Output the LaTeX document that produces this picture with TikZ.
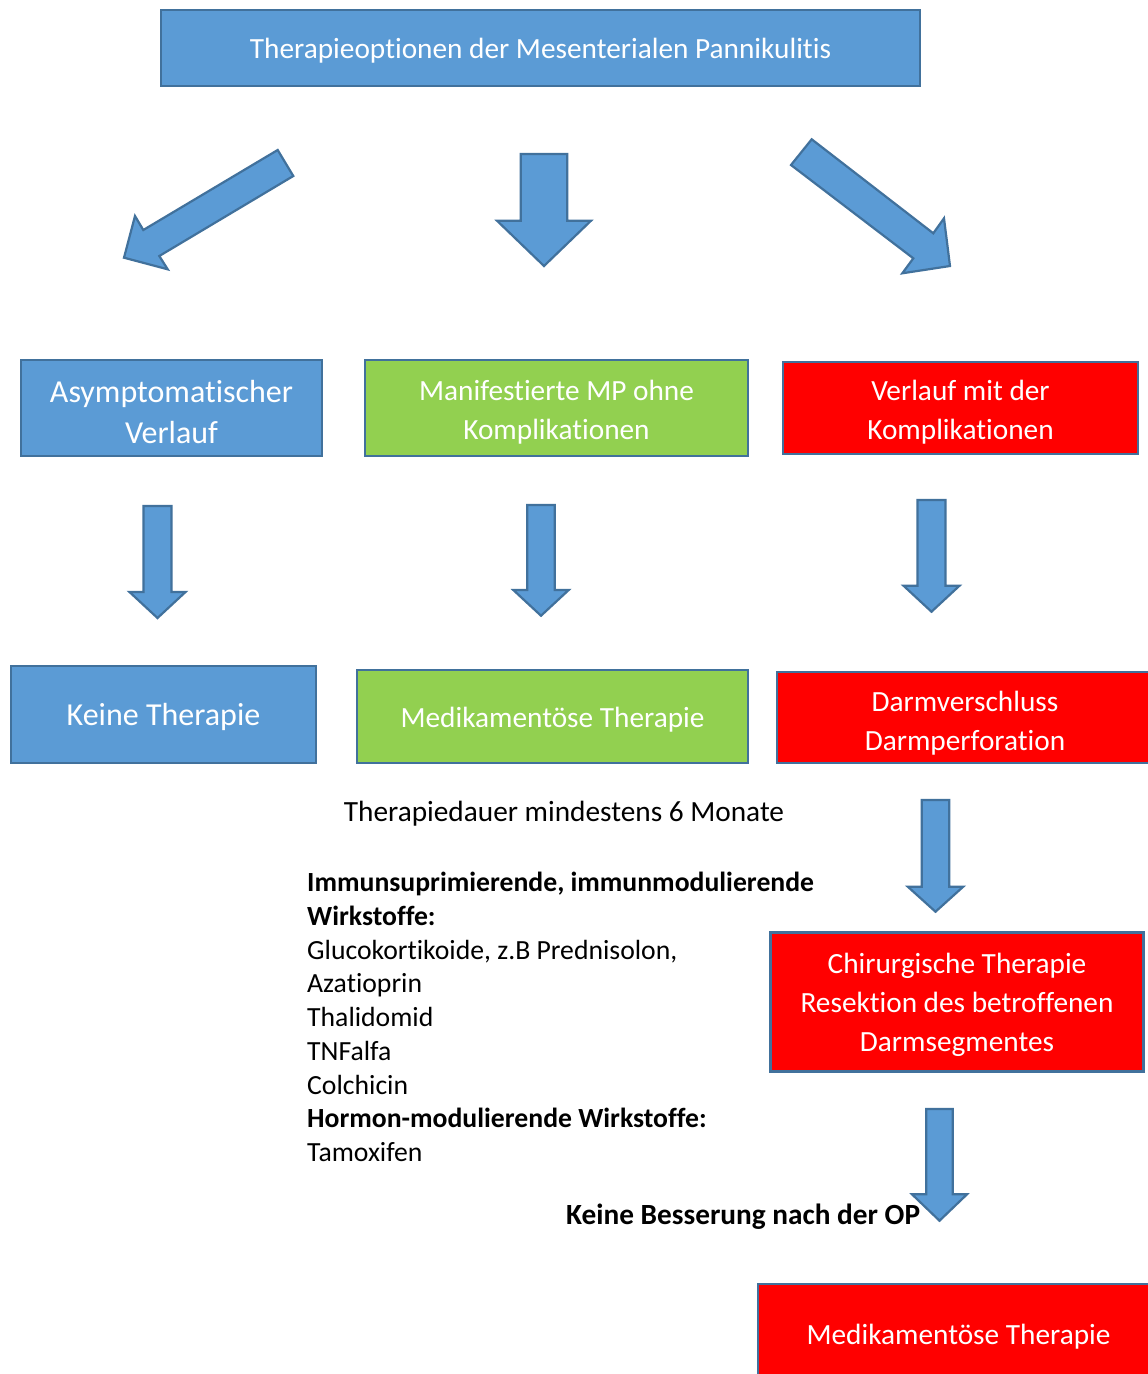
\documentclass[tikz,border=0pt]{standalone}
\usepackage{fontspec}
\setmainfont{Carlito}[Ligatures={NoCommon,NoContextual}]
\definecolor{mpblue}{HTML}{5B9BD5}
\definecolor{mpedge}{HTML}{41719C}
\definecolor{mpgreen}{HTML}{92D050}
\definecolor{mpred}{HTML}{FF0000}
\tikzset{
  box/.style={draw=mpedge, line width=2.2pt, inner sep=0pt},
  bluebox/.style={box, fill=mpblue},
  greenbox/.style={box, fill=mpgreen},
  redbox/.style={box, fill=mpred},
  boxtext/.style={text=white, align=center, inner sep=0pt, font=\fontsize{29.3}{39}\selectfont},
  bigtext/.style={text=white, align=center, inner sep=0pt, font=\fontsize{32}{40.5}\selectfont},
  blockarrow/.style={draw=mpedge, line width=2.2pt, fill=mpblue, line join=miter},
  plain/.style={text=black, inner sep=0pt, font=\fontsize{29.3}{34}\selectfont},
  plainbold/.style={text=black, inner sep=0pt, font=\fontsize{29.3}{34}\selectfont\bfseries},
  listtext/.style={text=black, inner sep=0pt, anchor=base west, font=\fontsize{27.7}{34}\selectfont},
  listbold/.style={listtext, font=\fontsize{27.7}{34}\selectfont\bfseries},
}
% cx, top, join, tip, shaft half width, head half width
\newcommand\blockdownarrow[6]{%
  \draw[blockarrow] ({#1-#5},#2) -- ({#1+#5},#2) -- ({#1+#5},#3) -- ({#1+#6},#3)
    -- (#1,#4) -- ({#1-#6},#3) -- ({#1-#5},#3) -- cycle;}
\begin{document}
\begin{tikzpicture}[x=1pt,y=-1pt]
\useasboundingbox (0,0) rectangle (1148,1374);
\clip (0,0) rectangle (1148,1374);
\fill[white] (0,0) rectangle (1148,1374);

% boxes
\node[bluebox, minimum width=759, minimum height=76] (title) at (540.5,48) {};
\node[boxtext] (titlet) at ([yshift=-3pt]title.center)
  {Therapieoptionen der Mesenterialen Pannikulitis};
\node[bluebox, minimum width=301, minimum height=96] (asym) at (171.5,408) {};
\node[bigtext] (asymt) at ([yshift=-4pt]asym.center) {Asymptomatischer\\Verlauf};
\node[greenbox, minimum width=383, minimum height=96] (manif) at (556.5,408) {};
\node[boxtext] (manift) at ([yshift=-4pt]manif.center) {Manifestierte MP ohne\\Komplikationen};
\node[redbox, minimum width=355, minimum height=92] (kompl) at (960.5,408) {};
\node[boxtext] (komplt) at ([yshift=-4pt]kompl.center) {Verlauf mit der\\Komplikationen};
\node[bluebox, minimum width=305, minimum height=97] (keine) at (163.5,714.5) {};
\node[bigtext] (keinet) at ([yshift=-2pt]keine.center) {Keine Therapie};
\node[greenbox, minimum width=391, minimum height=93] (medik) at (552.5,716.5) {};
\node[boxtext] (medikt) at ([yshift=-3pt]medik.center) {Medikamentöse Therapie};
\node[redbox, minimum width=376, minimum height=91] (darm) at (965,717.5) {};
\node[boxtext] (darmt) at ([yshift=-6pt]darm.center) {Darmverschluss\\Darmperforation};
\node[redbox, minimum width=373, minimum height=139] (chir) at (957,1002) {};
\node[boxtext] (chirt) at ([yshift=-2.5pt]chir.center)
  {Chirurgische Therapie\\Resektion des betroffenen\\Darmsegmentes};
\node[redbox, minimum width=401, minimum height=100] (final) at (958.5,1334) {};
\node[boxtext] (finalt) at ([yshift=-3pt]final.center) {Medikamentöse Therapie};

% diagonal block arrows
\draw[blockarrow] (277.7,150) -- (293.3,176) -- (159.3,256) -- (167.7,269.3)
  -- (124,257.7) -- (135,216) -- (143.3,230) -- cycle;
\draw[blockarrow] (811.7,139.3) -- (933.3,233.3) -- (944,218.3) -- (950,266)
  -- (902.3,273.3) -- (913.3,258.3) -- (791,165) -- cycle;

% down block arrows
\blockdownarrow{544}{154}{220.7}{266}{23.3}{47}
\blockdownarrow{157.5}{506}{592}{618}{14}{28}
\blockdownarrow{541}{505}{590}{615.7}{13.8}{27.7}
\blockdownarrow{931.5}{500}{585.7}{611.7}{14}{28}
\blockdownarrow{935.5}{800}{886.7}{911.7}{13.8}{27.7}
\blockdownarrow{939.5}{1109}{1194.3}{1220.7}{13.3}{27.5}

% free texts
\node[plain, anchor=base] (dauer) at (564,821) {Therapiedauer mindestens 6 Monate};
\node[listbold] (l1) at (307,891.7) {Immunsuprimierende, immunmodulierende};
\node[listbold] (l2) at (307,925.45) {Wirkstoffe:};
\node[listtext] (l3) at (307,959.2) {Glucokortikoide, z.B Prednisolon,};
\node[listtext] (l4) at (307,992.95) {Azatioprin};
\node[listtext] (l5) at (307,1026.7) {Thalidomid};
\node[listtext] (l6) at (307,1060.45) {TNFalfa};
\node[listtext] (l7) at (307,1094.2) {Colchicin};
\node[listbold] (l8) at (307,1127.95) {Hormon-modulierende Wirkstoffe:};
\node[listtext] (l9) at (307,1161.7) {Tamoxifen};
\node[plainbold, anchor=base west] (besser) at (566,1224) {Keine Besserung nach der OP};
\end{tikzpicture}
\end{document}
